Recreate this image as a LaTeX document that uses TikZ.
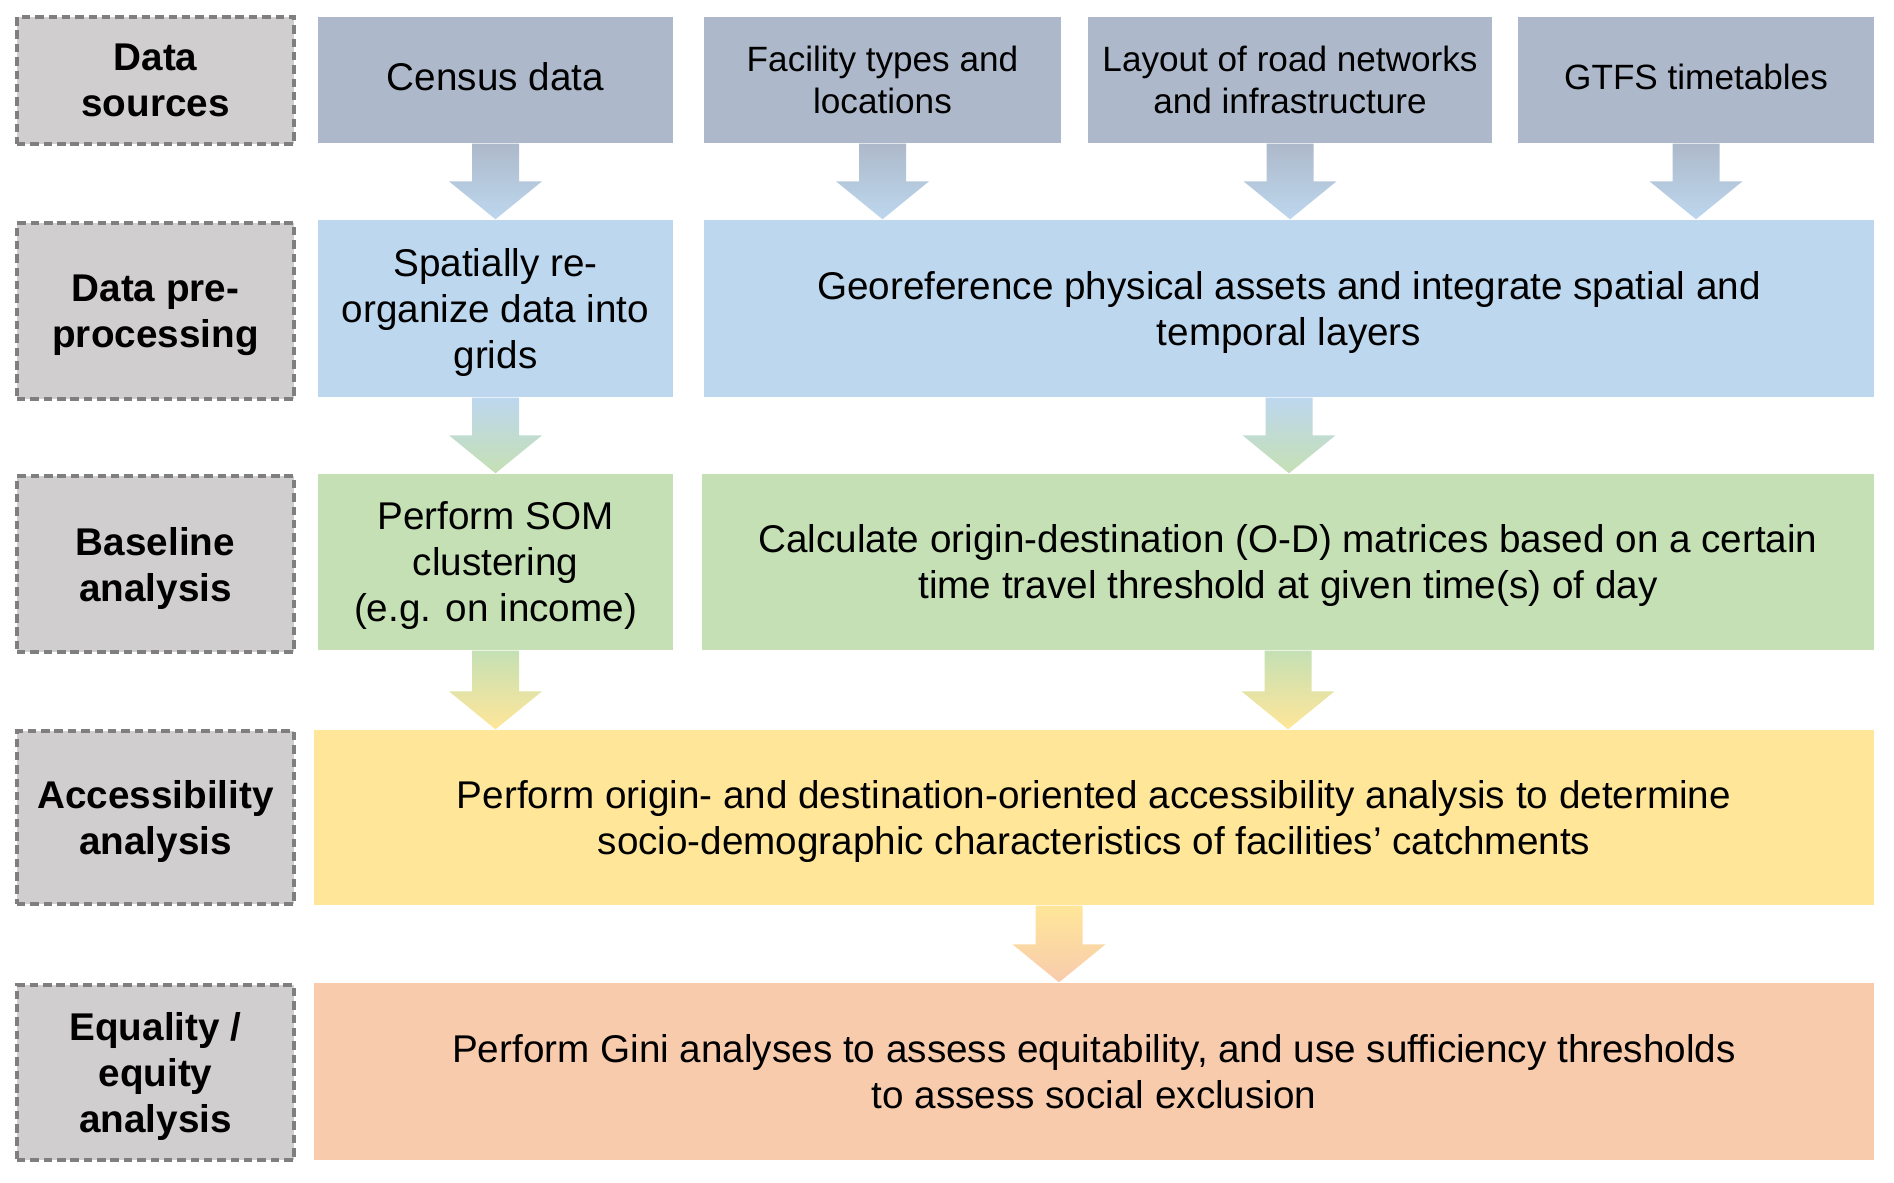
\documentclass[tikz,border=0pt]{standalone}
\usepackage{fontspec}
\setmainfont{Liberation Sans}
\usepackage{xcolor}
\usepackage{tikz}
\usetikzlibrary{calc}
\definecolor{labgray}{HTML}{D0CECE}
\definecolor{labline}{HTML}{7F7F7F}
\definecolor{srcgray}{HTML}{ADB9CA}
\definecolor{preblue}{HTML}{BDD7EE}
\definecolor{basegreen}{HTML}{C5E0B4}
\definecolor{accyellow}{HTML}{FFE699}
\definecolor{eqorange}{HTML}{F8CBAD}
% block arrow from #1 down to #2, shaded from #3 to #4
\newcommand{\flow}[4]{%
  \path[top color=#3, bottom color=#4] let \p1=(#1), \p2=(#2) in
    (\x1-2.35mm,\y1) -- (\x1+2.35mm,\y1) -- (\x1+2.35mm,\y2+3.8mm)
    -- (\x1+4.65mm,\y2+3.8mm) -- (\x1,\y2) -- (\x1-4.65mm,\y2+3.8mm)
    -- (\x1-2.35mm,\y2+3.8mm) -- cycle;}

\begin{document}
\begin{tikzpicture}[
  box/.style={align=center, inner sep=0pt, font=\fontsize{11}{13.1}\selectfont,
              text depth=0.25pt},
  srcbox/.style={box, fill=srcgray, minimum height=12.6mm,
                 font=\fontsize{10}{12}\selectfont, text depth=0pt},
  lab/.style={box, draw=labline, fill=labgray, line width=0.9pt,
              dash pattern=on 2.4pt off 1.4pt, font=\fontsize{11}{13.1}\selectfont\bfseries,
              minimum width=27.7mm, text depth=-0.8pt}]
\useasboundingbox (0,0) rectangle (18.94,-11.82);
% row labels
\node[lab, minimum height=12.7mm] (lsrc)  at (1.555,-0.805)  {Data\\sources};
\node[lab, minimum height=17.6mm] (lpre)  at (1.555,-3.11)   {Data pre-\\processing};
\node[lab, minimum height=17.6mm] (lbase) at (1.555,-5.64)   {Baseline\\analysis};
\node[lab, minimum height=17.3mm] (lacc)  at (1.555,-8.175)  {Accessibility\\analysis};
\node[lab, minimum height=17.5mm] (leq)   at (1.555,-10.725) {Equality /\\equity\\analysis};
% data sources
\node[srcbox, minimum width=35.5mm, font=\fontsize{11}{13.1}\selectfont, text depth=2pt] (cen) at (4.955,-0.80) {Census data};
\node[srcbox, minimum width=35.7mm] (fac)  at (8.825,-0.80) {Facility types and\\locations};
\node[srcbox, minimum width=40.4mm] (lay)  at (12.90,-0.80) {Layout of road networks\\and infrastructure};
\node[srcbox, minimum width=35.6mm, text depth=2pt] (gtfs) at (16.96,-0.80) {GTFS timetables};
% pre-processing
\node[box, fill=preblue, minimum width=35.5mm, minimum height=17.7mm] (spat) at (4.955,-3.085) {Spatially re-\\organize data into\\grids};
\node[box, fill=preblue, minimum width=117mm, minimum height=17.7mm] (geo)   at (12.89,-3.085) {Georeference physical assets and integrate spatial and\\temporal layers};
% baseline analysis
\node[box, fill=basegreen, minimum width=35.5mm, minimum height=17.6mm] (som) at (4.955,-5.62) {Perform SOM\\clustering\\(e.g. on income)};
\node[box, fill=basegreen, minimum width=117.2mm, minimum height=17.6mm] (calc) at (12.88,-5.62) {Calculate origin-destination (O-D) matrices based on a certain\\time travel threshold at given time(s) of day};
% accessibility and equity
\node[box, fill=accyellow, minimum width=156mm, minimum height=17.5mm] (acc) at (10.94,-8.175) {Perform origin- and destination-oriented accessibility analysis to determine\\socio-demographic characteristics of facilities’ catchments};
\node[box, fill=eqorange, minimum width=156mm, minimum height=17.7mm] (eq) at (10.94,-10.715) {Perform Gini analyses to assess equitability, and use sufficiency thresholds\\to assess social exclusion};
% arrows
\flow{cen.south}{spat.north}{srcgray}{preblue}
\flow{fac.south}{geo.north}{srcgray}{preblue}
\flow{lay.south}{geo.north}{srcgray}{preblue}
\flow{gtfs.south}{geo.north}{srcgray}{preblue}
\flow{spat.south}{som.north}{preblue}{basegreen}
\flow{geo.south}{calc.north}{preblue}{basegreen}
\flow{som.south}{acc.north}{basegreen}{accyellow}
\flow{calc.south}{acc.north}{basegreen}{accyellow}
\flow{$(acc.south)+(-0.35,0)$}{eq.north}{accyellow}{eqorange}
\end{tikzpicture}
\end{document}
